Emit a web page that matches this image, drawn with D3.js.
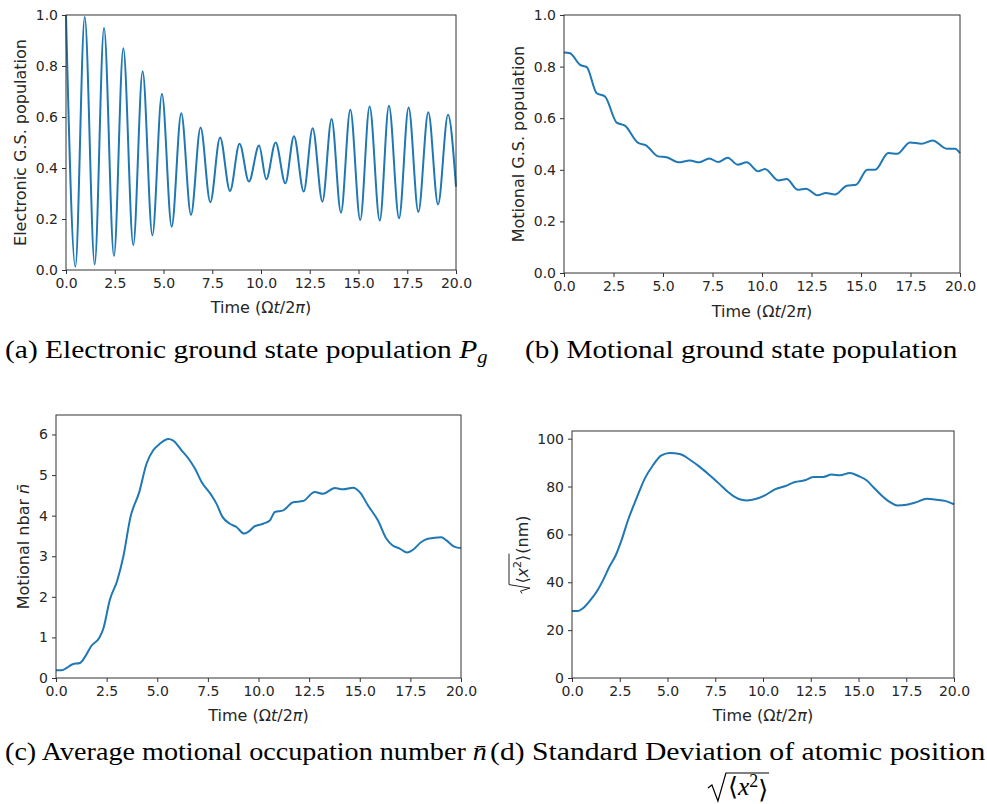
<!DOCTYPE html>
<html lang="en">
<head>
<meta charset="UTF-8">
<title>Trapped ion dynamics - four panels</title>
<script src="https://cdn.jsdelivr.net/npm/d3@7"></script>
<style>
  body { margin: 0; background: #fff; }
  svg text { fill: #262626; }
  .caption { font-family: "Liberation Serif", "DejaVu Serif", serif; font-size: 25.5px; fill: #000; }
  .axlabel { font-family: "DejaVu Sans", sans-serif; font-size: 16px; }
</style>
</head>
<body>
<svg id="fig" width="987" height="804"></svg>
<script>
// ---- data ----
// (a) electronic ground state population: extrema of the Rabi oscillation
const elecT = [0, 0.48, 0.96, 1.47, 1.95, 2.46, 2.94, 3.45, 3.93, 4.43, 4.92, 5.42, 5.91, 6.41, 6.9, 7.4,
               7.9, 8.41, 8.9, 9.38, 9.9, 10.27, 10.75, 11.25, 11.69, 12.19, 12.65, 13.15, 13.62, 14.1,
               14.58, 15.09, 15.57, 16.09, 16.56, 17.08, 17.57, 18.07, 18.58, 19.08, 19.59, 20];
const elecP = [1.0, 0.013, 0.992, 0.022, 0.949, 0.055, 0.870, 0.098, 0.779, 0.136, 0.690, 0.170, 0.615, 0.216,
               0.559, 0.266, 0.52, 0.31, 0.495, 0.347, 0.488, 0.356, 0.5, 0.34, 0.525, 0.308, 0.556, 0.268,
               0.592, 0.225, 0.628, 0.196, 0.641, 0.194, 0.644, 0.203, 0.637, 0.228, 0.619, 0.257, 0.609, 0.327];

// (b) motional ground state population
const motT = [0, 0.3, 0.81, 1.15, 1.65, 2.07, 2.66, 3.08, 3.75, 4.14, 4.76, 5.18, 5.77, 6.36, 6.83, 7.34,
              7.79, 8.27, 8.77, 9.23, 9.81, 10.15, 10.82, 11.25, 11.8, 12.22, 12.81, 13.23, 13.69, 14.28,
              14.75, 15.32, 15.71, 16.38, 16.83, 17.47, 18.06, 18.62, 19.33, 19.75, 20];
const motP = [0.855, 0.852, 0.807, 0.798, 0.697, 0.684, 0.583, 0.571, 0.504, 0.495, 0.452, 0.449, 0.429, 0.436,
              0.429, 0.444, 0.430, 0.447, 0.420, 0.429, 0.394, 0.403, 0.359, 0.364, 0.323, 0.327, 0.301,
              0.310, 0.304, 0.338, 0.342, 0.400, 0.400, 0.465, 0.462, 0.506, 0.501, 0.514, 0.482, 0.482, 0.465];

// (c) average motional occupation number
const nbarT = [0, 0.28, 0.53, 0.82, 1.18, 1.43, 1.76, 2.14, 2.34, 2.66, 3.03, 3.32, 3.68, 4.11, 4.47, 4.8,
               5.13, 5.54, 5.79, 6.2, 6.61, 6.86, 7.19, 7.68, 7.93, 8.22, 8.59, 8.91, 9.29, 9.49, 9.82,
               10.23, 10.56, 10.81, 11.22, 11.71, 12.2, 12.78, 13.19, 13.77, 14.18, 14.67, 15.0, 15.41,
               15.9, 16.32, 16.61, 16.97, 17.34, 17.63, 18.04, 18.37, 19.03, 19.28, 19.69, 20];
const nbarV = [0.19, 0.19, 0.25, 0.34, 0.37, 0.52, 0.80, 0.99, 1.22, 1.93, 2.41, 2.98, 3.97, 4.58, 5.28, 5.61,
               5.77, 5.89, 5.85, 5.61, 5.36, 5.16, 4.83, 4.5, 4.29, 3.97, 3.8, 3.72, 3.56, 3.6, 3.74,
               3.8, 3.88, 4.09, 4.13, 4.33, 4.36, 4.58, 4.54, 4.68, 4.65, 4.69, 4.58, 4.25,
               3.88, 3.43, 3.27, 3.19, 3.09, 3.16, 3.35, 3.43, 3.47, 3.39, 3.23, 3.2];

// (d) standard deviation of position (nm)
const sigT = [0, 0.31, 0.58, 0.93, 1.28, 1.62, 1.97, 2.29, 2.59, 2.93, 3.37, 3.81, 4.24, 4.68, 5.12, 5.64,
              6.17, 6.69, 7.21, 7.74, 8.17, 8.7, 9.14, 9.66, 10.1, 10.62, 11.14, 11.67, 12.19, 12.63,
              13.15, 13.59, 14.03, 14.55, 14.99, 15.42, 15.77, 16.21, 16.65, 17.03, 17.52, 18.04,
              18.57, 19.1, 19.53, 20];
const sigV = [28.0, 28.0, 29.2, 32.2, 35.9, 40.8, 46.7, 51.3, 57.5, 65.9, 74.9, 83.3, 88.9, 93.0, 94.0, 93.6,
              91.2, 88.2, 84.7, 80.9, 77.7, 74.9, 74.2, 74.9, 76.3, 78.8, 80.1, 81.9, 82.6, 84.0,
              84.0, 85.0, 84.7, 85.7, 84.4, 82.6, 79.8, 76.3, 73.5, 72.1, 72.4, 73.5,
              74.9, 74.5, 74.0, 72.6];

// ticks
const xTickVals = [0, 2.5, 5, 7.5, 10, 12.5, 15, 17.5, 20];
const xTickLabels = ["0.0", "2.5", "5.0", "7.5", "10.0", "12.5", "15.0", "17.5", "20.0"];
const popTickVals = [0, 0.2, 0.4, 0.6, 0.8, 1.0];
const popTickLabels = ["0.0", "0.2", "0.4", "0.6", "0.8", "1.0"];
const nbarTickVals = [0, 1, 2, 3, 4, 5, 6];
const nbarTickLabels = ["0", "1", "2", "3", "4", "5", "6"];
const sigTickVals = [0, 20, 40, 60, 80, 100];
const sigTickLabels = ["0", "20", "40", "60", "80", "100"];

const lineColor = "#1f77b4";
const svg = d3.select("#fig");

// append a run of tspans to a text selection
function addRuns(text, runs) {
  runs.forEach(r => {
    const ts = text.append("tspan").text(r.text);
    if (r.italic) ts.attr("font-style", "italic");
    if (r.size) ts.attr("font-size", r.size);
    if (r.dy) ts.attr("dy", r.dy);
  });
  return text;
}

const panels = [
  { t: elecT, v: elecP, left: 66, right: 456, top: 15, bottom: 270, yMax: 1,
    yTicks: popTickVals, yLabels: popTickLabels, labelX: 20, xLabelY: 313,
    ylabel: [{ text: "Electronic G.S. population" }] },
  { t: motT, v: motP, left: 564, right: 960, top: 15, bottom: 273, yMax: 1,
    yTicks: popTickVals, yLabels: popTickLabels, labelX: 518, xLabelY: 317,
    ylabel: [{ text: "Motional G.S. population" }] },
  { t: nbarT, v: nbarV, left: 56, right: 461, top: 415, bottom: 678, yMax: 6.48,
    yTicks: nbarTickVals, yLabels: nbarTickLabels, labelX: 23, xLabelY: 721,
    ylabel: [{ text: "Motional nbar " }, { text: "n\u0304", italic: true }] },
  { t: sigT, v: sigV, left: 572, right: 954, top: 431, bottom: 678, yMax: 103.2,
    yTicks: sigTickVals, yLabels: sigTickLabels, labelX: 522, xLabelY: 721,
    ylabel: null }
];

panels.forEach(p => {
  const x = d3.scaleLinear().domain([0, 20]).range([p.left, p.right]);
  const y = d3.scaleLinear().domain([0, p.yMax]).range([p.bottom, p.top]);
  const g = svg.append("g");

  const pts = p.t.map((d, i) => [d, p.v[i]]);
  const line = d3.line().x(d => x(d[0])).y(d => y(d[1])).curve(d3.curveMonotoneX);
  g.append("path").datum(pts)
    .attr("d", line)
    .attr("fill", "none")
    .attr("stroke", lineColor)
    .attr("stroke-width", 2)
    .attr("stroke-linejoin", "round");

  const xAxis = d3.axisBottom(x).tickValues(xTickVals)
    .tickFormat((d, i) => xTickLabels[i])
    .tickSizeInner(4).tickSizeOuter(0).tickPadding(4);
  const yAxis = d3.axisLeft(y).tickValues(p.yTicks)
    .tickFormat((d, i) => p.yLabels[i])
    .tickSizeInner(4).tickSizeOuter(0).tickPadding(4);

  [g.append("g").attr("transform", `translate(0,${p.bottom})`).call(xAxis),
   g.append("g").attr("transform", `translate(${p.left},0)`).call(yAxis)].forEach(a => {
    a.select(".domain").remove();
    a.selectAll(".tick line").attr("stroke", "#333");
    a.selectAll("text").attr("font-family", "DejaVu Sans, sans-serif")
      .attr("font-size", 14).attr("fill", "#262626");
  });

  // frame
  g.append("rect")
    .attr("x", p.left).attr("y", p.top)
    .attr("width", p.right - p.left).attr("height", p.bottom - p.top)
    .attr("fill", "none").attr("stroke", "#333").attr("stroke-width", 1);

  // x label
  addRuns(g.append("text").attr("class", "axlabel")
      .attr("x", (p.left + p.right) / 2).attr("y", p.xLabelY).attr("text-anchor", "middle"),
    [{ text: "Time (\u03a9" }, { text: "t", italic: true }, { text: "/2" }, { text: "\u03c0", italic: true }, { text: ")" }]);

  // y label
  const cy = (p.top + p.bottom) / 2;
  const yl = g.append("g").attr("transform", `translate(${p.labelX + 6},${cy}) rotate(-90)`);
  if (p.ylabel) {
    addRuns(yl.append("text").attr("class", "axlabel").attr("text-anchor", "middle"), p.ylabel);
  } else {
    // sqrt(<x^2>) (nm)
    const inner = yl.append("g");
    const rad = addRuns(inner.append("text").attr("class", "axlabel").attr("x", 10),
      [{ text: "\u27e8" }, { text: "x", italic: true }, { text: "2", size: 11, dy: -7 }, { text: "\u27e9", dy: 7 }]);
    const rb = rad.node().getBBox();
    const rEnd = rb.x + rb.width;
    inner.append("path")
      .attr("d", `M0,-6 L2.5,-7.5 L5.5,2 L9,-19 L${rEnd + 1},-19`)
      .attr("fill", "none").attr("stroke", "#262626").attr("stroke-width", 1);
    const suf = inner.append("text").attr("class", "axlabel").attr("x", rEnd + 1).text(" (nm)");
    const total = rEnd + 1 + suf.node().getComputedTextLength();
    inner.attr("transform", `translate(${-total / 2},0)`);
  }
});

// ---- captions (LaTeX style, stretched to the reference widths) ----
function caption(runs, x0, x1, baseline) {
  const t = addRuns(svg.append("text").attr("class", "caption").attr("x", 0).attr("y", 0), runs);
  const bb = t.node().getBBox();
  const s = (x1 - x0) / bb.width;
  t.attr("transform", `translate(${x0 - bb.x * s},${baseline}) scale(${s},1)`);
}

caption([{ text: "(a) Electronic ground state population " }, { text: "P", italic: true },
         { text: "g", italic: true, size: "0.7em", dy: "0.3em" }], 5, 488, 358);
caption([{ text: "(b) Motional ground state population" }], 525, 958, 358);
caption([{ text: "(c) Average motional occupation number " }, { text: "n\u0304", italic: true }], 5, 487, 760);
caption([{ text: "(d) Standard Deviation of atomic position" }], 490, 986, 760);

// second line of caption (d): sqrt(<x^2>)
const capRad = svg.append("g");
const capIn = addRuns(capRad.append("text").attr("class", "caption").attr("x", 0).attr("y", 795)
    .attr("font-size", 24),
  [{ text: "\u27e8" }, { text: "x", italic: true }, { text: "2", size: "0.7em", dy: "-0.45em" }, { text: "\u27e9", dy: "0.45em" }]);
const cb = capIn.node().getBBox();
const cx0 = 748 - cb.width / 2 - cb.x;
capIn.attr("transform", `translate(${cx0},0)`);
const rl = cx0 + cb.x;
capRad.append("path")
  .attr("d", `M${rl - 20},788 L${rl - 16},785 L${rl - 10},801 L${rl - 2},773 L${rl + cb.width + 1},773`)
  .attr("fill", "none").attr("stroke", "#000").attr("stroke-width", 1.2);
</script>
</body>
</html>
